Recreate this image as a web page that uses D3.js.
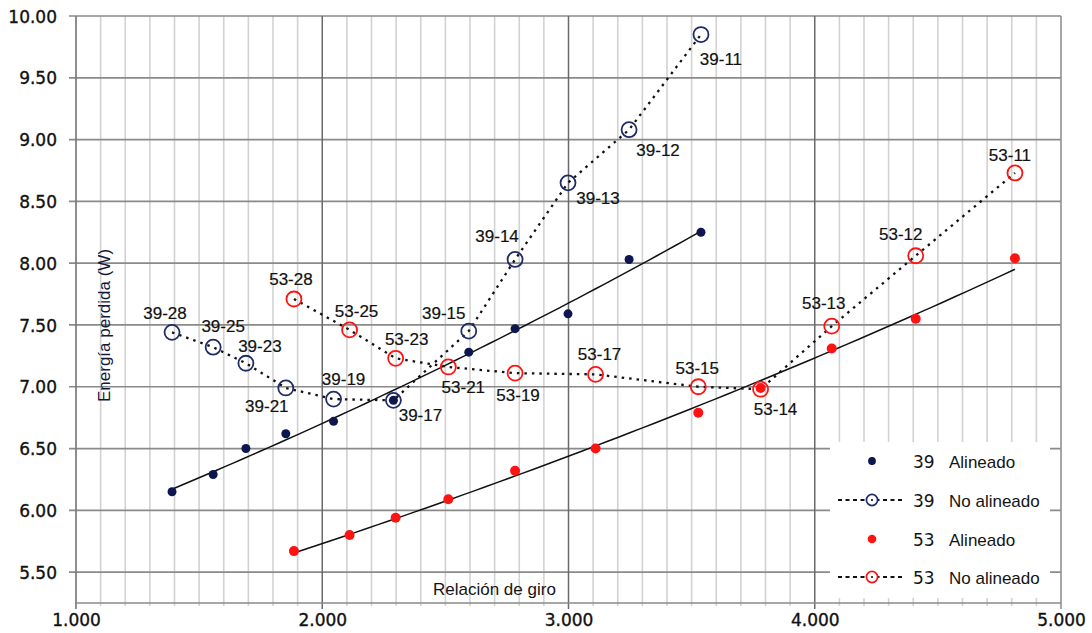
<!DOCTYPE html>
<html>
<head>
<meta charset="utf-8">
<script src="https://cdn.jsdelivr.net/npm/d3@7"></script>
<style>
  html, body { margin: 0; padding: 0; background: #fff; }
  svg { display: block; }
</style>
</head>
<body>
<svg id="chart" width="1092" height="633"></svg>
<script>
// Relación de giro vs. energía perdida, poleas 39 y 53
const ratio39 = [1.390, 1.557, 1.690, 1.852, 2.046, 2.289, 2.595, 2.783, 2.998, 3.246, 3.538];
const aligned39 = [6.15, 6.29, 6.50, 6.62, 6.72, 6.89, 7.28, 7.47, 7.59, 8.03, 8.25];
const misaligned39 = [7.44, 7.32, 7.19, 6.99, 6.90, 6.89, 7.45, 8.03, 8.65, 9.08, 9.85];
const labels39 = ["39-28", "39-25", "39-23", "39-21", "39-19", "39-17", "39-15", "39-14", "39-13", "39-12", "39-11"];

const ratio53 = [1.885, 2.111, 2.298, 2.512, 2.783, 3.110, 3.527, 3.780, 4.069, 4.410, 4.813];
const aligned53 = [5.67, 5.80, 5.94, 6.09, 6.32, 6.50, 6.79, 6.99, 7.31, 7.55, 8.04];
const misaligned53 = [7.71, 7.46, 7.23, 7.16, 7.11, 7.10, 7.00, 6.98, 7.49, 8.06, 8.73];
const labels53 = ["53-28", "53-25", "53-23", "53-21", "53-19", "53-17", "53-15", "53-14", "53-13", "53-12", "53-11"];

const xTickValues = [1, 2, 3, 4, 5];
const yTickValues = [5.5, 6, 6.5, 7, 7.5, 8, 8.5, 9, 9.5, 10];

const legendNumbers = ["39", "39", "53", "53"];
const legendWords = ["Alineado", "No alineado", "Alineado", "No alineado"];

// label placement (pixel offsets from each open marker)
const labelOffsets39 = [[-7, -13], [10, -15], [14, -11], [-19, 24], [10, -14], [27, 21], [-25, -12], [-18, -17], [30, 21], [29, 26], [20, 30]];
const labelOffsets53 = [[-3, -14], [7, -13], [11, -13], [15, 26], [3, 28], [4, -14], [-1, -13], [15, 26], [-8, -17], [-15, -16], [-5, -12]];

(function draw() {
  const NAVY = "#0e1650";
  const NAVY_RING = "#1f2b68";
  const RED = "#ff1212";

  const svg = d3.select("#chart");
  const x = d3.scaleLinear().domain([1, 5]).range([76, 1061]);
  const y = d3.scaleLinear().domain([5.25, 10]).range([603, 16]);
  const plotTop = y(10), plotBottom = y(5.25), plotLeft = x(1), plotRight = x(5);

  // minor vertical grid every 0.1
  const minor = d3.range(11, 50).filter(d => d % 10 !== 0).map(d => d / 10);
  svg.append("g").selectAll("line").data(minor).join("line")
    .attr("x1", d => x(d)).attr("x2", d => x(d))
    .attr("y1", plotTop).attr("y2", plotBottom + 3)
    .attr("stroke", "#d2d2d2").attr("stroke-width", 1.6);

  // horizontal grid
  svg.append("g").selectAll("line").data(yTickValues).join("line")
    .attr("x1", plotLeft - 7).attr("x2", plotRight)
    .attr("y1", d => y(d)).attr("y2", d => y(d))
    .attr("stroke", "#8a8a8a").attr("stroke-width", 1.7);

  // major vertical grid
  svg.append("g").selectAll("line").data([2, 3, 4]).join("line")
    .attr("x1", d => x(d)).attr("x2", d => x(d))
    .attr("y1", plotTop).attr("y2", plotBottom + 6)
    .attr("stroke", "#6a6a6a").attr("stroke-width", 1.5);

  // frame
  svg.append("line").attr("x1", plotLeft).attr("x2", plotLeft).attr("y1", plotTop).attr("y2", plotBottom + 6)
    .attr("stroke", "#7a7a7a").attr("stroke-width", 1.7);
  svg.append("line").attr("x1", plotRight).attr("x2", plotRight).attr("y1", plotTop).attr("y2", plotBottom + 6)
    .attr("stroke", "#909090").attr("stroke-width", 1.6);
  svg.append("line").attr("x1", plotLeft).attr("x2", plotRight).attr("y1", plotBottom).attr("y2", plotBottom)
    .attr("stroke", "#8a8a8a").attr("stroke-width", 1.7);

  // legend panel (covers grid)
  svg.append("rect").attr("x", 830).attr("y", 442).attr("width", 220).attr("height", 156).attr("fill", "#fff");

  // axis tick labels
  const yAxis = svg.append("g").attr("transform", `translate(${plotLeft},0)`)
    .call(d3.axisLeft(y).tickValues(yTickValues).tickFormat(d3.format(".2f")).tickSize(0).tickPadding(19));
  yAxis.select(".domain").remove();
  yAxis.selectAll("text").attr("font-family", "DejaVu Sans").attr("font-size", 17).attr("fill", "#111")
    .attr("stroke", "#111").attr("stroke-width", 0.35).attr("dy", "0.36em");

  const xAxis = svg.append("g").attr("transform", `translate(0,${plotBottom})`)
    .call(d3.axisBottom(x).tickValues(xTickValues).tickFormat(d3.format(".3f")).tickSize(0).tickPadding(11));
  xAxis.select(".domain").remove();
  xAxis.selectAll("text").attr("font-family", "DejaVu Sans").attr("font-size", 17).attr("fill", "#111")
    .attr("stroke", "#111").attr("stroke-width", 0.35).attr("dy", "0.71em");

  // axis titles
  svg.append("text").attr("x", 433).attr("y", 595)
    .attr("font-family", "Liberation Sans, Arial, sans-serif").attr("font-size", 17).attr("fill", "#141414")
    .text("Relación de giro");
  svg.append("text").attr("transform", "translate(110,402) rotate(-90)")
    .attr("font-family", "Liberation Sans, Arial, sans-serif").attr("font-size", 17).attr("fill", "#15173a")
    .text("Energía perdida (W)");

  // exponential trend (least squares on ln y)
  function expTrend(xs, ys) {
    const mx = d3.mean(xs), ml = d3.mean(ys, v => Math.log(v));
    const sxy = d3.sum(xs, (v, i) => (v - mx) * (Math.log(ys[i]) - ml));
    const sxx = d3.sum(xs, v => (v - mx) * (v - mx));
    const b = sxy / sxx, a = Math.exp(ml - b * mx);
    const [x0, x1] = d3.extent(xs);
    return d3.range(0, 61).map(i => { const t = x0 + (x1 - x0) * i / 60; return [t, a * Math.exp(b * t)]; });
  }
  const path = d3.line().x(d => x(d[0])).y(d => y(d[1]));

  [[ratio39, aligned39], [ratio53, aligned53]].forEach(([xs, ys]) => {
    svg.append("path").attr("d", path(expTrend(xs, ys)))
      .attr("fill", "none").attr("stroke", "#111").attr("stroke-width", 1.5);
  });

  // dotted connectors of the misaligned series
  [[ratio39, misaligned39], [ratio53, misaligned53]].forEach(([xs, ys]) => {
    svg.append("path").attr("d", path(xs.map((v, i) => [v, ys[i]])))
      .attr("fill", "none").attr("stroke", "#111").attr("stroke-width", 2.3)
      .attr("stroke-dasharray", "2.5,5");
  });

  // open markers
  function rings(xs, ys, color) {
    svg.append("g").selectAll("circle").data(xs).join("circle")
      .attr("cx", d => x(d)).attr("cy", (d, i) => y(ys[i])).attr("r", 7.5)
      .attr("fill", "none").attr("stroke", color).attr("stroke-width", 1.8);
  }
  rings(ratio39, misaligned39, NAVY_RING);
  rings(ratio53, misaligned53, RED);

  // filled markers
  function dots(xs, ys, color, r) {
    svg.append("g").selectAll("circle").data(xs).join("circle")
      .attr("cx", d => x(d)).attr("cy", (d, i) => y(ys[i])).attr("r", r)
      .attr("fill", color);
  }
  dots(ratio39, aligned39, NAVY, 4.5);
  dots(ratio53, aligned53, RED, 5);

  // point labels
  function pointLabels(xs, ys, labels, offsets) {
    svg.append("g").selectAll("text").data(labels).join("text")
      .attr("x", (d, i) => x(xs[i]) + offsets[i][0])
      .attr("y", (d, i) => y(ys[i]) + offsets[i][1])
      .attr("text-anchor", "middle")
      .attr("font-family", "Liberation Sans, Arial, sans-serif").attr("font-size", 17).attr("fill", "#111")
      .attr("stroke", "#111").attr("stroke-width", 0.2)
      .text(d => d);
  }
  pointLabels(ratio39, misaligned39, labels39, labelOffsets39);
  pointLabels(ratio53, misaligned53, labels53, labelOffsets53);

  // legend
  const rowY = [461, 500, 539, 577];
  const markerX = 872;
  legendNumbers.forEach((num, i) => {
    const cy = rowY[i];
    const color = i < 2 ? NAVY : RED;
    if (i % 2 === 1) {
      svg.append("line").attr("x1", 838).attr("x2", 903).attr("y1", cy).attr("y2", cy)
        .attr("stroke", "#111").attr("stroke-width", 2).attr("stroke-dasharray", "4,3.5");
      svg.append("circle").attr("cx", markerX).attr("cy", cy).attr("r", 5.6)
        .attr("fill", "#fff").attr("stroke", i < 2 ? NAVY_RING : RED).attr("stroke-width", 1.7);
      svg.append("circle").attr("cx", markerX).attr("cy", cy).attr("r", 1.1).attr("fill", "#111");
    } else {
      svg.append("circle").attr("cx", markerX).attr("cy", cy).attr("r", i < 2 ? 3.9 : 4.3).attr("fill", color);
    }
    svg.append("text").attr("x", 913).attr("y", cy + 6.5)
      .attr("font-family", "DejaVu Sans").attr("font-size", 17).attr("fill", "#141414").text(num);
    svg.append("text").attr("x", 949).attr("y", cy + 6.5)
      .attr("font-family", "Liberation Sans, Arial, sans-serif").attr("font-size", 17).attr("fill", "#141414").text(legendWords[i]);
  });
})();
</script>
</body>
</html>
